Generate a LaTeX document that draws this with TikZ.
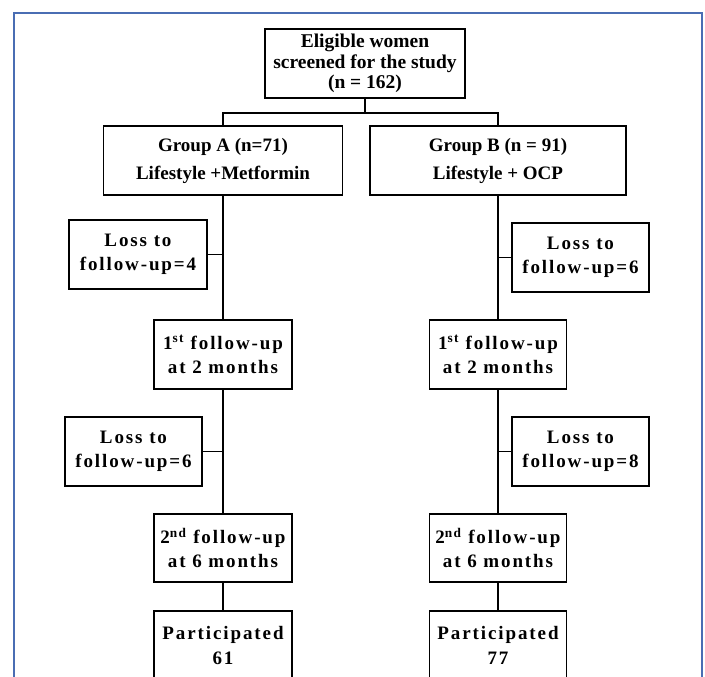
\documentclass[tikz,border=0pt]{standalone}
\usepackage{fontspec}
\setmainfont{Liberation Serif}
\newfontfamily\spaced{Liberation Serif}[LetterSpace=10]
\definecolor{frameblue}{HTML}{4A6DB3}
\begin{document}
\begin{tikzpicture}[x=1pt,y=1pt,
  box/.style={draw, line width=1.8pt, inner sep=0pt, align=center, minimum height=69pt},
  plain/.style={box, font=\bfseries\fontsize{19.5}{20.5}\selectfont},
  grp/.style={box, font=\bfseries\fontsize{19}{28}\selectfont},
  sbox/.style={box, minimum width=138pt, font=\spaced\bfseries\fontsize{19}{24.5}\selectfont},
  link/.style={line width=1.8pt}]
\useasboundingbox (0,0) rectangle (705,-677);
\clip (0,0) rectangle (705,-677);
\draw[frameblue, line width=1.5pt] (14,-13) rectangle (702,-700);

\node[plain, minimum width=200pt] (top) at (365,-63.5) {Eligible women\\screened for the study\\(n = 162)};
\node[grp, minimum width=239pt] (ga) at (223,-160.5) {Group A (n=71)\\Lifestyle +Metformin};
\node[grp, minimum width=256pt] (gb) at (498,-160.5) {Group B (n = 91)\\Lifestyle + OCP};

\node[sbox] (la1) at (138,-254.5) {Loss to\\follow-up=4};
\node[sbox, minimum width=137pt] (lb1) at (580.5,-257.5) {Loss to\\follow-up=6};

\node[sbox] (fa1) at (223,-354.5) {1\textsuperscript{st} follow-up\\at 2 months};
\node[sbox, minimum width=137pt] (fb1) at (498,-354.5) {1\textsuperscript{st} follow-up\\at 2 months};

\node[sbox, minimum width=137pt] (la2) at (133.5,-451.5) {Loss to\\follow-up=6};
\node[sbox, minimum width=137pt] (lb2) at (580.5,-451.5) {Loss to\\follow-up=8};

\node[sbox, minimum height=68pt] (fa2) at (223,-548) {2\textsuperscript{nd} follow-up\\at 6 months};
\node[sbox, minimum width=137pt, minimum height=68pt] (fb2) at (498,-548) {2\textsuperscript{nd} follow-up\\at 6 months};

\node[sbox] (pa) at (223,-645.5) {Participated\\61};
\node[sbox, minimum width=137pt] (pb) at (498,-645.5) {Participated\\77};

\coordinate (split) at (365,-113);
\draw[link] (top.south) -- (split);
\draw[link] (ga.north) |- (split) -| (gb.north);

\draw[link] (ga.south) -- (fa1.north);
\draw[link] (fa1.south) -- (fa2.north);
\draw[link] (fa2.south) -- (pa.north);
\draw[link] (gb.south) -- (fb1.north);
\draw[link] (fb1.south) -- (fb2.north);
\draw[link] (fb2.south) -- (pb.north);

\draw[link] (la1.east) -- (la1.east -| ga.south);
\draw[link] (la2.east) -- (la2.east -| fa1.south);
\draw[link] (lb1.west) -- (lb1.west -| gb.south);
\draw[link] (lb2.west) -- (lb2.west -| fb1.south);
\end{tikzpicture}
\end{document}
